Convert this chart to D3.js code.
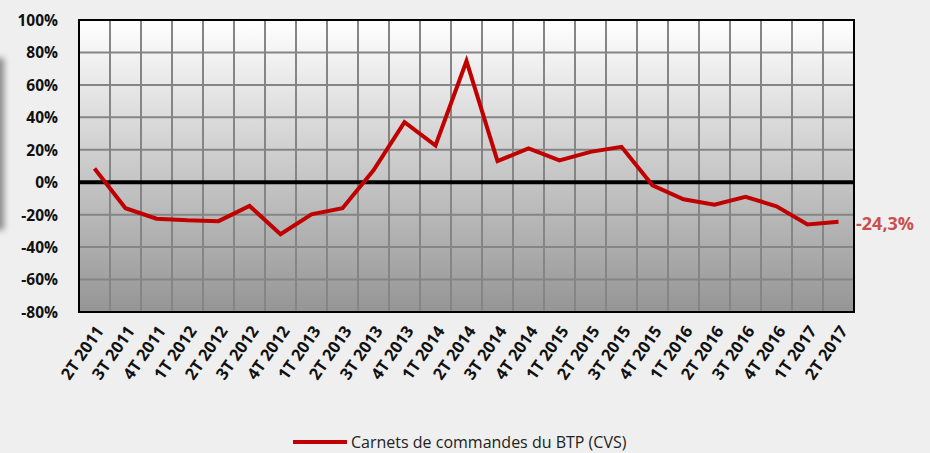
<!DOCTYPE html>
<html>
<head>
<meta charset="utf-8">
<script src="https://cdn.jsdelivr.net/npm/d3@7"></script>
<style>
body { margin: 0; background: #efefef; }
svg { display: block; }
</style>
</head>
<body>
<div id="chart"></div>
<script>
// quarters, carnets de commandes du BTP (CVS), in %
var quarters = ["2T 2011", "3T 2011", "4T 2011", "1T 2012", "2T 2012", "3T 2012", "4T 2012",
    "1T 2013", "2T 2013", "3T 2013", "4T 2013", "1T 2014", "2T 2014", "3T 2014", "4T 2014",
    "1T 2015", "2T 2015", "3T 2015", "4T 2015", "1T 2016", "2T 2016", "3T 2016", "4T 2016",
    "1T 2017", "2T 2017"];
var carnets = [8.5, -16, -22.5, -23.5, -24, -14.6, -32, -19.8, -16, 7.4, 37, 22.6, 74.7,
    13, 20.8, 13.4, 18.7, 21.8, -1.9, -10.5, -13.8, -9, -14.8, -26, -24.3];
var yTicks = [100, 80, 60, 40, 20, 0, -20, -40, -60, -80];
var lastLabel = "-24,3%";
var legendLabel = "Carnets de commandes du BTP (CVS)";

var W = 930, H = 453;
var margin = {top: 20, right: 76, bottom: 141, left: 79},
    width = W - margin.left - margin.right,
    height = H - margin.top - margin.bottom;

var x = d3.scaleBand().domain(quarters).range([0, width]);
var y = d3.scaleLinear().domain([-80, 100]).range([height, 0]);

var root = d3.select("#chart").append("svg")
    .attr("width", W)
    .attr("height", H);

var defs = root.append("defs");
var grad = defs.append("linearGradient")
    .attr("id", "bg")
    .attr("x1", 0).attr("y1", 0).attr("x2", 0).attr("y2", 1);
grad.append("stop").attr("offset", "0%").attr("stop-color", "#ffffff");
grad.append("stop").attr("offset", "100%").attr("stop-color", "#959595");

defs.append("filter").attr("id", "blur")
    .attr("x", "-100%").attr("width", "300%")
    .append("feGaussianBlur").attr("stdDeviation", 3);

// shadow on the left edge
root.append("rect")
    .attr("x", -12).attr("y", 58)
    .attr("width", 16).attr("height", 172)
    .attr("fill", "#8a8a8a")
    .attr("filter", "url(#blur)");

var svg = root.append("g")
    .attr("transform", `translate(${margin.left}, ${margin.top})`);

svg.append("rect")
    .attr("width", width)
    .attr("height", height)
    .attr("fill", "url(#bg)");

// vertical grid at band edges
var edges = quarters.map(q => x(q)).slice(1);
svg.selectAll("line.vgrid")
    .data(edges).enter().append("line")
    .attr("x1", d => d).attr("x2", d => d)
    .attr("y1", 0).attr("y2", height)
    .attr("stroke", "#858585")
    .attr("stroke-width", 2);

// horizontal grid
svg.selectAll("line.hgrid")
    .data(yTicks.filter(t => t != 0 && t != 100 && t != -80)).enter().append("line")
    .attr("x1", 0).attr("x2", width)
    .attr("y1", d => y(d)).attr("y2", d => y(d))
    .attr("stroke", "#858585")
    .attr("stroke-width", 2);

// zero line
svg.append("line")
    .attr("x1", 0).attr("x2", width)
    .attr("y1", y(0)).attr("y2", y(0))
    .attr("stroke", "#000")
    .attr("stroke-width", 4);

// frame
svg.append("rect")
    .attr("width", width)
    .attr("height", height)
    .attr("fill", "none")
    .attr("stroke", "#000")
    .attr("stroke-width", 2);

// y axis
var yAxis = svg.append("g")
    .call(d3.axisLeft(y).tickValues(yTicks).tickSize(0).tickPadding(21).tickFormat(d => d + "%"));
yAxis.select(".domain").remove();
yAxis.selectAll("text")
    .attr("font-family", "'Open Sans', sans-serif")
    .attr("font-weight", "bold")
    .attr("font-size", "15.5px")
    .attr("fill", "#111")
    .attr("dy", "0.35em");

// x axis
var xAxis = svg.append("g")
    .attr("transform", `translate(0, ${height})`)
    .call(d3.axisBottom(x).tickSize(0).tickPadding(0));
xAxis.select(".domain").remove();
xAxis.selectAll("text")
    .attr("font-family", "'Open Sans', sans-serif")
    .attr("font-weight", "bold")
    .attr("font-size", "16.5px")
    .attr("fill", "#111")
    .attr("text-anchor", "end")
    .attr("dy", "0")
    .attr("y", 0)
    .attr("transform", "translate(10, 19) rotate(-55)");

// line
var line = d3.line()
    .x((d, i) => x(quarters[i]) + x.bandwidth() / 2)
    .y(d => y(d));

svg.append("path")
    .datum(carnets)
    .attr("d", line)
    .attr("fill", "none")
    .attr("stroke", "#c00000")
    .attr("stroke-width", 4)
    .attr("stroke-linejoin", "miter");

// last value label
svg.append("text")
    .attr("x", width + 2)
    .attr("y", y(carnets[carnets.length - 1]) + 2)
    .attr("dy", "0.35em")
    .attr("font-family", "'Open Sans', sans-serif")
    .attr("font-weight", "bold")
    .attr("font-size", "18px")
    .attr("fill", "#c9504e")
    .text(lastLabel);

// legend
var legend = root.append("g")
    .attr("transform", "translate(293, 442)");
legend.append("line")
    .attr("x1", 0).attr("x2", 54)
    .attr("y1", 0).attr("y2", 0)
    .attr("stroke", "#c00000")
    .attr("stroke-width", 4);
legend.append("text")
    .attr("x", 58)
    .attr("y", 0)
    .attr("dy", "0.35em")
    .attr("font-family", "'Open Sans', sans-serif")
    .attr("font-size", "16px")
    .attr("fill", "#222")
    .text(legendLabel);
</script>
</body>
</html>
